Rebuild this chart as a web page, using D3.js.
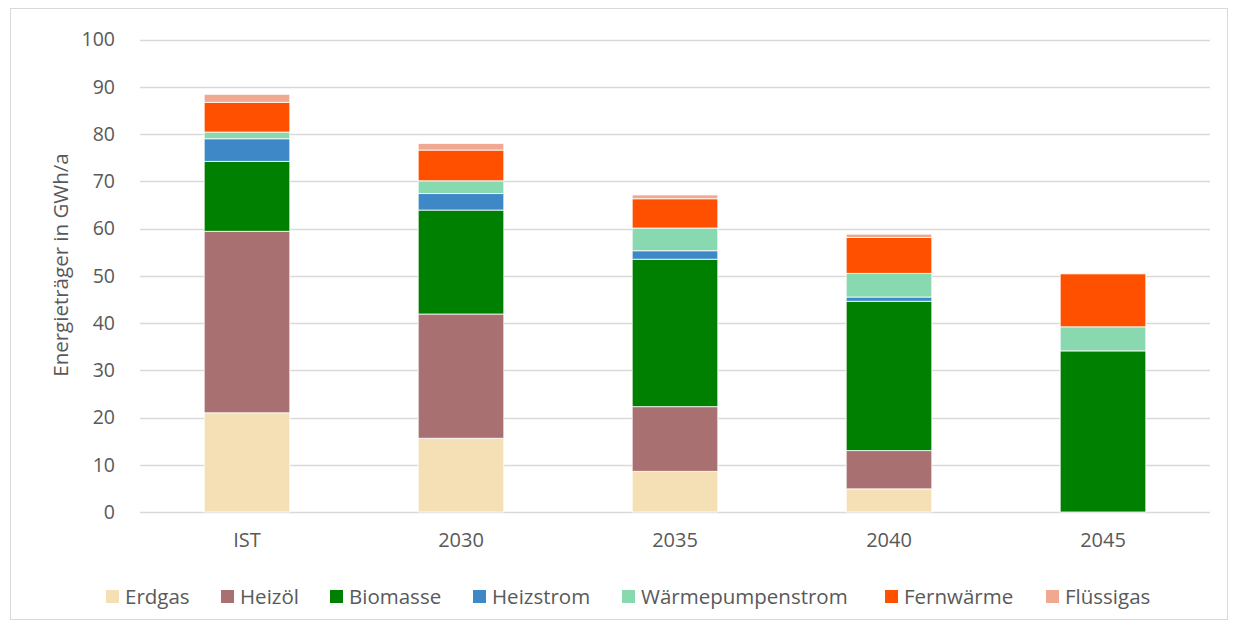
<!DOCTYPE html>
<html>
<head>
<meta charset="utf-8">
<script src="https://cdn.jsdelivr.net/npm/d3@7"></script>
<style>
  html, body { margin: 0; padding: 0; background: #fff; }
  svg { display: block; font-family: "Open Sans", sans-serif; }
</style>
</head>
<body>
<svg id="chart" width="1236" height="627"></svg>
<script>
// Energy carriers per scenario year (GWh/a)
const categories = ["IST", "2030", "2035", "2040", "2045"];
const seriesNames = ["Erdgas", "Heizöl", "Biomasse", "Heizstrom", "Wärmepumpenstrom", "Fernwärme", "Flüssigas"];
const erdgas      = [21.0, 15.6,  8.6,  4.9,  0.0];
const heizoel     = [38.4, 26.3, 13.7,  8.1,  0.0];
const biomasse    = [14.8, 22.0, 31.2, 31.6, 34.1];
const heizstrom   = [ 4.8,  3.5,  1.8,  0.9,  0.0];
const waermepumpe = [ 1.4,  2.7,  4.8,  5.0,  5.1];
const fernwaerme  = [ 6.3,  6.5,  6.2,  7.6, 11.2];
const fluessiggas = [ 1.7,  1.4,  0.8,  0.7,  0.0];
const yTicks = [0, 10, 20, 30, 40, 50, 60, 70, 80, 90, 100];
const colors = ["#F5DFB4", "#A87070", "#008000", "#3F88C8", "#88D8B0", "#FF5000", "#F0A890"];

const seriesValues = [erdgas, heizoel, biomasse, heizstrom, waermepumpe, fernwaerme, fluessiggas];
const rows = categories.map((c, i) => {
  const r = { cat: c };
  seriesNames.forEach((s, k) => { r[s] = seriesValues[k][i]; });
  return r;
});

const svg = d3.select("#chart");
const W = 1236, H = 627;
const margin = { left: 140, right: 26, top: 39.5, bottom: 115 };

// outer chart frame
svg.append("rect")
  .attr("x", 10.5).attr("y", 8.5)
  .attr("width", 1217).attr("height", 611)
  .attr("fill", "none").attr("stroke", "#d9d9d9").attr("stroke-width", 1);

const x = d3.scaleBand()
  .domain(categories)
  .range([margin.left, W - margin.right])
  .paddingInner(0.6).paddingOuter(0.3);

const y = d3.scaleLinear()
  .domain([0, 100])
  .range([H - margin.bottom, margin.top]);

// gridlines
svg.append("g")
  .selectAll("line")
  .data(yTicks)
  .join("line")
  .attr("x1", margin.left).attr("x2", W - margin.right)
  .attr("y1", d => Math.round(y(d)) + 0.5).attr("y2", d => Math.round(y(d)) + 0.5)
  .attr("stroke", "#d9d9d9").attr("stroke-width", 1.3);

// y axis labels
const yAxis = d3.axisLeft(y).tickValues(yTicks).tickSize(0).tickPadding(25);
const gy = svg.append("g").attr("transform", `translate(${margin.left},0)`).call(yAxis);
gy.select(".domain").remove();
gy.selectAll("text").attr("font-size", 19.5).attr("fill", "#595959").attr("font-family", "Open Sans");

// x axis labels
const xAxis = d3.axisBottom(x).tickSize(0).tickPadding(21);
const gx = svg.append("g").attr("transform", `translate(0,${H - margin.bottom})`).call(xAxis);
gx.select(".domain").remove();
gx.selectAll("text").attr("font-size", 20).attr("fill", "#595959").attr("font-family", "Open Sans");

// stacked bars
const stacked = d3.stack().keys(seriesNames)(rows);
const layers = svg.append("g").selectAll("g")
  .data(stacked)
  .join("g")
  .attr("fill", (d, i) => colors[i]);

layers.selectAll("rect")
  .data(d => d.filter(p => p[1] - p[0] > 0))
  .join("rect")
  .attr("x", d => x(d.data.cat))
  .attr("width", x.bandwidth())
  .attr("y", d => y(d[1]))
  .attr("height", d => y(d[0]) - y(d[1]))
  .attr("stroke", "#ffffff").attr("stroke-width", 1).attr("stroke-opacity", 0.8);

// y axis title
svg.append("text")
  .attr("transform", `translate(68,265) rotate(-90)`)
  .attr("text-anchor", "middle")
  .attr("font-size", 20.5)
  .attr("fill", "#595959")
  .text("Energieträger in GWh/a");

// legend
const legendX = [106, 221, 330, 473, 622, 885, 1046];
const legend = svg.append("g").attr("transform", "translate(0,597)");
const item = legend.selectAll("g")
  .data(seriesNames)
  .join("g")
  .attr("transform", (d, i) => `translate(${legendX[i]},0)`);
item.append("rect")
  .attr("x", 0).attr("y", -7).attr("width", 13).attr("height", 13)
  .attr("fill", (d, i) => colors[i]);
item.append("text")
  .attr("x", 19).attr("y", 0).attr("dy", "0.35em")
  .attr("font-size", 20.5).attr("fill", "#595959")
  .text(d => d);
</script>
</body>
</html>
